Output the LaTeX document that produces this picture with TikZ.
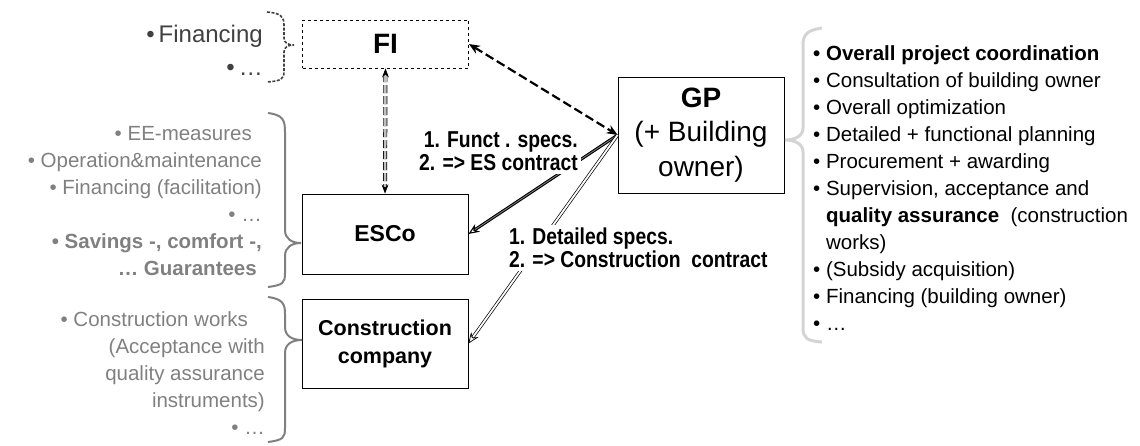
\documentclass[tikz,border=0pt]{standalone}
\usepackage{fontspec}
\setmainfont{Liberation Sans}
\newfontfamily\narrowfont[FakeStretch=0.84]{Liberation Sans}
\usetikzlibrary{arrows.meta,positioning}
\definecolor{listgray}{RGB}{128,128,128}
\definecolor{bracegray}{RGB}{212,212,212}
\definecolor{topgray}{RGB}{64,64,64}

\tikzset{
  box/.style={draw, line width=0.8pt, minimum width=166pt, align=center, inner sep=2pt},
  lbl/.style={fill=white, inner sep=3pt, font=\narrowfont\bfseries\fontsize{23}{23}\selectfont},
  glist/.style={text=listgray, align=right, inner sep=0pt, font=\fontsize{20.5}{27}\selectfont},
  rlist/.style={align=left, inner sep=0pt, font=\fontsize{20.5}{27}\selectfont},
  toplist/.style={text=topgray, align=right, inner sep=0pt, font=\fontsize{24}{33}\selectfont},
  gbrace/.style={draw=listgray, line width=2pt},
  fgline/.style={line width=2.2pt, dash pattern=on 9pt off 4pt, {Stealth[length=11pt,width=9pt]}-{Stealth[length=11pt,width=9pt]}},
  feline/.style={line width=0.7pt, double=black!25, double distance=2.6pt, dash pattern=on 8pt off 3pt, {Stealth[length=9pt]}-{Stealth[length=9pt]}},
  esline/.style={line width=1.1pt, double=black!50, double distance=0.8pt, -{Stealth[length=11pt,width=9pt,open]}},
  ccline/.style={line width=0.7pt, double=white, double distance=1.8pt, -{Stealth[length=11pt,width=9pt,open]}}
}

\begin{document}
\begin{tikzpicture}[x=1pt,y=-1pt]
\useasboundingbox (0,0) rectangle (1140,445);

\node[box, dashed, minimum height=48pt, font=\bfseries\fontsize{28}{32}\selectfont] (fi) at (385.5,44) {FI};
\node[box, minimum height=116pt, font=\fontsize{28}{34.5}\selectfont] (gp) at (701,135) {\textbf{GP}\\(+ Building\\owner)};
\node[box, minimum height=80pt, font=\bfseries\fontsize{23}{28}\selectfont] (esco) at (385,234) {ESCo};
\node[box, minimum height=89pt, font=\bfseries\fontsize{21.5}{28}\selectfont] (cc) at (385,343.5) {Construction\\company};

\draw[fgline] (fi.east) -- (gp.west);
\draw[feline] (fi.south) -- (esco.north);
\draw[esline] (gp.west) -- (esco.east);
\draw[ccline] (gp.west) -- (cc.east);

\node[lbl, anchor=east, align=right] (functlbl) at (581,151) {1. Funct . specs.\\2. => ES contract};
\node[lbl, anchor=west, align=left] (detaillbl) at (506,248) {1. Detailed specs.\\2. => Construction\ \ contract};

\node[toplist, anchor=east] (filist) at (263,50) {•\,Financing\\•\,…};
\node[glist, anchor=east] (escolist) at (262,201) {• EE-measures\hspace*{10pt}\\
  • Operation\&maintenance\hspace*{20pt}\\
  • Financing (facilitation)\hspace*{23pt}\\
  • …\\
  \textbf{• Savings -, comfort -,}\\
  \textbf{… Guarantees}\hspace*{5pt}};
\node[glist, anchor=east] (cclist) at (265,373) {• Construction works\hspace*{17pt}\\
  (Acceptance with\hspace*{16pt}\\
  quality assurance\hspace*{17pt}\\
  instruments)\hspace*{9pt}\\
  • …};
\node[rlist, anchor=west] (gplist) at (813,188) {\textbf{• Overall project coordination}\\
  • Consultation of building owner\\
  • Overall optimization\\
  • Detailed + functional planning\\
  • Procurement + awarding\\
  • Supervision, acceptance and\\
  \phantom{• }\textbf{quality assurance}\ \ (construction\\
  \phantom{• }works)\\
  • (Subsidy acquisition)\\
  • Financing (building owner)\\
  • …};

% braces
\draw[draw=topgray, line width=1.6pt, dash pattern=on 3pt off 1.5pt] (267,12) .. controls (281,13) and (284,17) .. (284,25) -- (284,38) .. controls (284,43) and (288,45) .. (294,45) .. controls (288,45) and (284,47) .. (284,52) -- (284,72) .. controls (284,79) and (281,81) .. (267,82);
\draw[gbrace] (268,113) .. controls (283,115) and (285,120) .. (285,132) -- (285,230) .. controls (285,239) and (292,243) .. (301,243) .. controls (292,243) and (285,247) .. (285,256) -- (285,273) .. controls (285,283) and (283,285) .. (268,287);
\draw[gbrace] (268,297) .. controls (283,299) and (285,304) .. (285,314) -- (285,327) .. controls (285,336) and (292,340) .. (302,340) .. controls (292,340) and (285,344) .. (285,353) -- (285,428) .. controls (285,438) and (283,440) .. (268,442);
\draw[draw=bracegray, line width=3pt] (822,28) .. controls (807,30) and (803,35) .. (803,45) -- (803,128) .. controls (803,136) and (795,140) .. (785,140) .. controls (795,140) and (803,144) .. (803,152) -- (803,328) .. controls (803,338) and (807,341) .. (822,342);
\end{tikzpicture}
\end{document}
